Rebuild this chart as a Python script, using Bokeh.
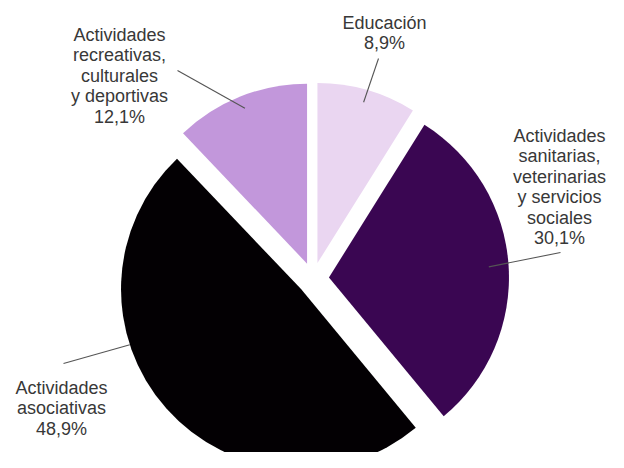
import math
from bokeh.plotting import figure
from bokeh.models import Range1d
from bokeh.embed import file_html
from bokeh.resources import INLINE
from bokeh.core.properties import value

# ---------------- data ----------------
categories = ["Educación",
              "Actividades sanitarias, veterinarias y servicios sociales",
              "Actividades asociativas",
              "Actividades recreativas, culturales y deportivas"]
shares = [8.9, 30.1, 48.9, 12.1]
share_labels = ["8,9%", "30,1%", "48,9%", "12,1%"]
name_lines = [["Educación"],
              ["Actividades", "sanitarias,", "veterinarias", "y servicios", "sociales"],
              ["Actividades", "asociativas"],
              ["Actividades", "recreativas,", "culturales", "y deportivas"]]
colors = ["#EAD6F1", "#3A0652", "#030003", "#C297DB"]

# ---------------- layout (pixels from the figure's top-left corner) ----------------
W, H = 608, 452
CX, CY = 312.5, 278.0
R = 180
EXPLODE = 16
LINE = 20.5
FONT = "18px"
label_first_line = [(384, 22), (559, 135), (61, 387), (119, 34)]
leader_outer = [(378, 58), (560, 252), (63, 363), (177, 70)]
leader_inner_angle = [None, None, 252.0, None]  # degrees clockwise from top, None = bisector
leader_inner_frac = [0.93, 0.89, 1.0, 0.93]


def ys(y):
    return H - y


p = figure(width=W, height=H, output_backend="svg", toolbar_location=None,
           x_range=Range1d(0, W), y_range=Range1d(0, H),
           min_border=0, background_fill_color="white", border_fill_color="white")
p.axis.visible = False
p.grid.visible = False
p.outline_line_color = None

total = sum(shares)
cum = 0.0
for i, s in enumerate(shares):
    a0 = cum / total * 360.0
    a1 = (cum + s) / total * 360.0
    cum += s
    mid = (a0 + a1) / 2.0
    ox = CX + EXPLODE * math.sin(math.radians(mid))
    oy = ys(CY) + EXPLODE * math.cos(math.radians(mid))
    p.wedge(x=[ox], y=[oy], radius=R,
            start_angle=[math.radians(90 - a1)], end_angle=[math.radians(90 - a0)],
            fill_color=colors[i], line_color=None)
    # leader line
    ang = leader_inner_angle[i] if leader_inner_angle[i] is not None else mid
    ix = ox + leader_inner_frac[i] * R * math.sin(math.radians(ang))
    iy = oy + leader_inner_frac[i] * R * math.cos(math.radians(ang))
    lx, ly = leader_outer[i]
    p.line(x=[lx, ix], y=[ys(ly), iy], line_color="#555555", line_width=1.1)
    # label
    lines = name_lines[i] + [share_labels[i]]
    fx, fy = label_first_line[i]
    p.text(x=[fx] * len(lines), y=[ys(fy + k * LINE) for k in range(len(lines))],
           text=lines, text_align="center", text_baseline="middle",
           text_font=value("Liberation Sans"), text_font_size=FONT,
           text_color="#383838")

open("out.html", "w").write(file_html(p, INLINE))
